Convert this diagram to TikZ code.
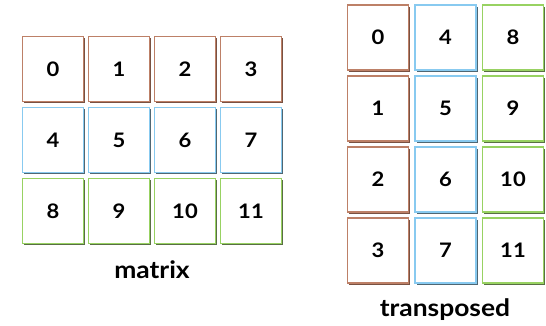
\documentclass[tikz,border=0pt]{standalone}
\usepackage{fontspec}
\newfontfamily\cellfont{Lato}[FakeStretch=1.1]
\usetikzlibrary{shadows}
\definecolor{cbrown}{HTML}{BD8067}
\definecolor{cblue}{HTML}{88CAF0}
\definecolor{cgreen}{HTML}{98D262}
\definecolor{sbrown}{HTML}{6A3E2E}
\definecolor{sblue}{HTML}{3C5664}
\definecolor{sgreen}{HTML}{475F30}
\tikzset{
  cellbox/.style={draw=#1, line width=1.7pt, fill=white,
    minimum width=61pt, minimum height=65pt, inner sep=0pt,
    font=\cellfont\fontsize{20}{22}\selectfont\bfseries},
  brownc/.style={cellbox=cbrown, drop shadow={shadow xshift=1.6pt, shadow yshift=-1.6pt, fill=sbrown, opacity=0.9}},
  bluec/.style={cellbox=cblue, drop shadow={shadow xshift=1.6pt, shadow yshift=-1.6pt, fill=sblue, opacity=0.9}},
  greenc/.style={cellbox=cgreen, drop shadow={shadow xshift=1.6pt, shadow yshift=-1.6pt, fill=sgreen, opacity=0.9}},
  caption/.style={font=\cellfont\fontsize{24}{26}\selectfont\bfseries, inner sep=0pt}
}
\begin{document}
\begin{tikzpicture}[x=1pt,y=-1pt]
\useasboundingbox (0,0) rectangle (546,325);
% matrix
\node[brownc] (m0) at (53,69) {0};
\node[brownc] (m1) at (119,69) {1};
\node[brownc] (m2) at (185,69) {2};
\node[brownc] (m3) at (251,69) {3};
\node[bluec] (m4) at (53,140) {4};
\node[bluec] (m5) at (119,140) {5};
\node[bluec] (m6) at (185,140) {6};
\node[bluec] (m7) at (251,140) {7};
\node[greenc] (m8) at (53,211) {8};
\node[greenc] (m9) at (119,211) {9};
\node[greenc] (m10) at (185,211) {10};
\node[greenc] (m11) at (251,211) {11};
\node[caption] (lm) at (152,270) {matrix};
% transposed
\node[brownc] (t0) at (378,37.5) {0};
\node[brownc] (t1) at (378,108.5) {1};
\node[brownc] (t2) at (378,179.5) {2};
\node[brownc] (t3) at (378,250.5) {3};
\node[bluec] (t4) at (445.5,37.5) {4};
\node[bluec] (t5) at (445.5,108.5) {5};
\node[bluec] (t6) at (445.5,179.5) {6};
\node[bluec] (t7) at (445.5,250.5) {7};
\node[greenc] (t8) at (513,37.5) {8};
\node[greenc] (t9) at (513,108.5) {9};
\node[greenc] (t10) at (513,179.5) {10};
\node[greenc] (t11) at (513,250.5) {11};
\node[caption] (lt) at (445,310) {transposed};
\end{tikzpicture}
\end{document}
